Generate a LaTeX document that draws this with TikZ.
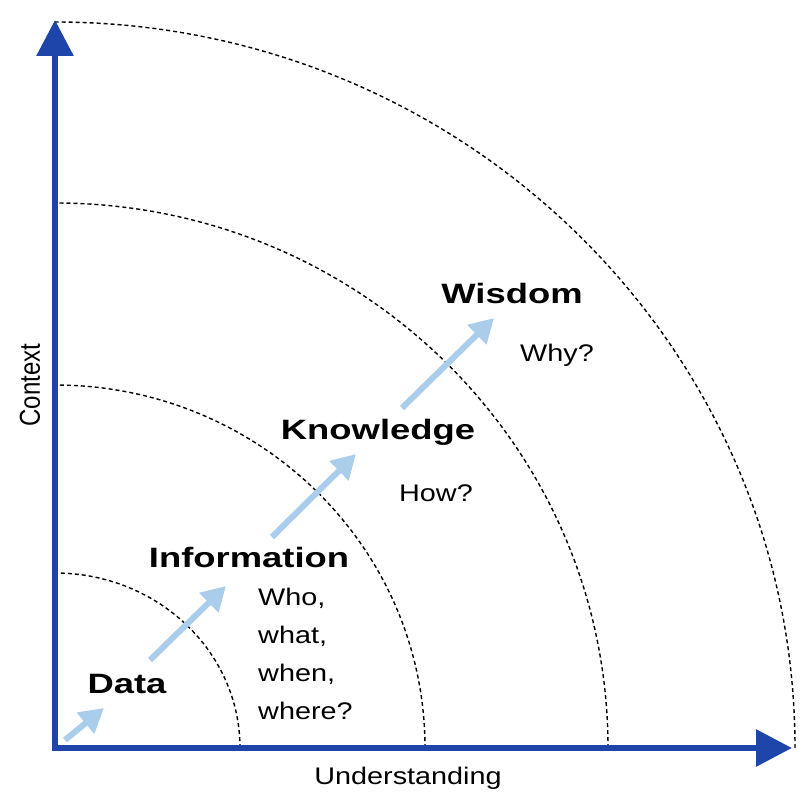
\documentclass[tikz,border=0pt]{standalone}
\usepackage{fontspec}
\setmainfont{Liberation Sans}
\usetikzlibrary{arrows.meta}
\definecolor{axisblue}{RGB}{30,70,170}
\definecolor{lightarr}{RGB}{170,205,235}
\begin{document}
\begin{tikzpicture}[x=1pt,y=-1pt,
  arc/.style={line width=1.4pt,dash pattern=on 4pt off 3pt},
  axis/.style={line width=6pt,axisblue,-{Triangle[length=36pt,width=36pt]}},
  prog/.style={line width=6pt,lightarr,-{Triangle[length=24pt,width=26pt]}},
  lab/.style={font=\fontsize{28}{30}\selectfont\bfseries,xscale=1.3},
  q/.style={font=\fontsize{24}{38}\selectfont,xscale=1.2,align=left}]
\useasboundingbox (0,0) rectangle (800,808);
\fill[white] (0,0) rectangle (800,808);
\coordinate (O) at (55,748);
\draw[arc] (240,748) arc[start angle=0,end angle=-90,x radius=185,y radius=175];
\draw[arc] (425,748) arc[start angle=0,end angle=-90,x radius=370,y radius=363];
\draw[arc] (608,748) arc[start angle=0,end angle=-90,x radius=553,y radius=545];
\draw[arc] (795,748) arc[start angle=0,end angle=-90,x radius=740,y radius=726];
\coordinate (ytop) at (55,20);
\coordinate (xend) at (792,748);
\draw[axis] (55,751) -- (ytop);
\draw[axis] (52,748) -- (xend);
\coordinate (a1) at (65,740); \coordinate (a2) at (104,708);
\coordinate (b1) at (150,660); \coordinate (b2) at (226,586);
\coordinate (c1) at (272,537); \coordinate (c2) at (356,454);
\coordinate (d1) at (402,408); \coordinate (d2) at (494,318);
\draw[prog] (a1) -- (a2);
\draw[prog] (b1) -- (b2);
\draw[prog] (c1) -- (c2);
\draw[prog] (d1) -- (d2);
\node[lab] (data) at (127,684) {Data};
\node[lab] (info) at (249,557) {Information};
\node[lab] (know) at (378,432) {Knowledge};
\node[lab] (wis) at (512,293) {Wisdom};
\node[q] (why) at (557,355) {Why?};
\node[q] (how) at (436,493) {How?};
\node[q,anchor=north west] (who) at (254,585) {Who,\\what,\\when,\\where?};
\node[q,rotate=90,xscale=1] (ctx) at (30,385) {Context};
\node[q] (und) at (408,778) {Understanding};
\end{tikzpicture}
\end{document}
